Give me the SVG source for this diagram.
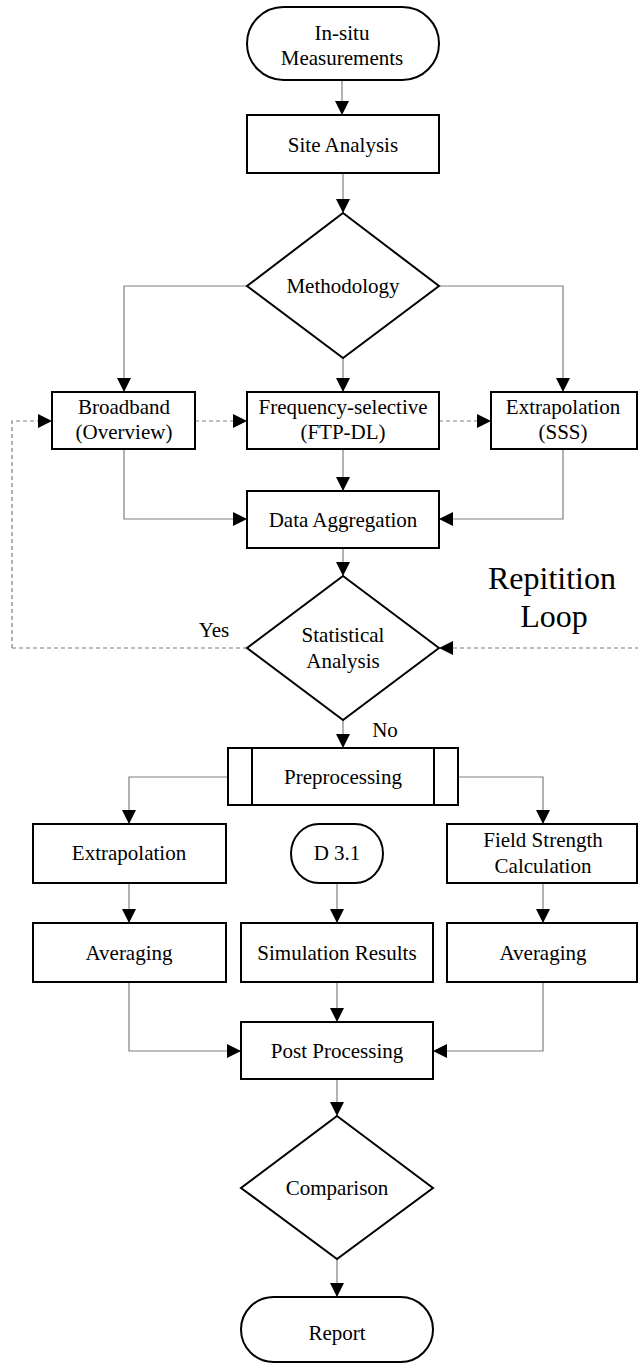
<svg xmlns="http://www.w3.org/2000/svg" width="638" height="1366" viewBox="0 0 638 1366">
<style>
.box{fill:#fff;stroke:#000;stroke-width:2}
.t{font-family:"Liberation Serif","Times New Roman",serif;font-size:21px;fill:#000;text-anchor:middle}
.big{font-size:32px}
.c{fill:none;stroke:#808080;stroke-width:1.2}
.d{fill:none;stroke:#808080;stroke-width:1.2;stroke-dasharray:4 3}
.dl{fill:none;stroke:#a8a8a8;stroke-width:1.4;stroke-dasharray:4 3}
</style>
<defs>
<marker id="ah" markerUnits="userSpaceOnUse" markerWidth="15" markerHeight="14" refX="14" refY="7" orient="auto" viewBox="0 0 15 14">
<path d="M0,0 L14,7 L0,14 z" fill="#000"/>
</marker>
</defs>
<rect width="638" height="1366" fill="#fff"/>
<g id="connectors">
<path class="c" d="M342,80 V115" marker-end="url(#ah)"/>
<path class="c" d="M343,173 V213" marker-end="url(#ah)"/>
<path class="c" d="M247,286 H124 V392" marker-end="url(#ah)"/>
<path class="c" d="M439,286 H563 V392" marker-end="url(#ah)"/>
<path class="c" d="M343,358 V392" marker-end="url(#ah)"/>
<path class="c" d="M343,449 V491" marker-end="url(#ah)"/>
<path class="c" d="M124,449 V519 H247" marker-end="url(#ah)"/>
<path class="c" d="M563,449 V519 H439" marker-end="url(#ah)"/>
<path class="c" d="M343,548 V576" marker-end="url(#ah)"/>
<path class="dl" d="M247,648 H12"/>
<path class="d" d="M12,648 V421 H52" marker-end="url(#ah)"/>
<path class="d" d="M195,421 H247" marker-end="url(#ah)"/>
<path class="d" d="M439,421 H491" marker-end="url(#ah)"/>
<path class="d" d="M637,421 H660"/>
<path class="dl" d="M660,648 H439" marker-end="url(#ah)"/>
<path class="c" d="M343,720 V748" marker-end="url(#ah)"/>
<path class="c" d="M228,777 H129 V824" marker-end="url(#ah)"/>
<path class="c" d="M458,777 H543 V824" marker-end="url(#ah)"/>
<path class="c" d="M129,883 V923" marker-end="url(#ah)"/>
<path class="c" d="M337,883 V923" marker-end="url(#ah)"/>
<path class="c" d="M543,883 V923" marker-end="url(#ah)"/>
<path class="c" d="M129,982 V1051 H241" marker-end="url(#ah)"/>
<path class="c" d="M337,982 V1022" marker-end="url(#ah)"/>
<path class="c" d="M543,982 V1051 H433" marker-end="url(#ah)"/>
<path class="c" d="M337,1079 V1116" marker-end="url(#ah)"/>
<path class="c" d="M337,1259 V1297" marker-end="url(#ah)"/>
<text class="t" x="214" y="637">Yes</text>
<text class="t" x="385" y="737">No</text>
</g>
<g id="loop-label">
<text class="t big" x="552" y="589">Repitition</text>
<text class="t big" x="554" y="627">Loop</text>
</g>
<g id="insitu">
<rect class="box" x="247" y="7" width="192" height="73" rx="36.5" ry="36.5"/>
<text class="t" x="342" y="40">In-situ</text>
<text class="t" x="342" y="65">Measurements</text>
</g>
<g id="site">
<rect class="box" x="247" y="115" width="192" height="58"/>
<text class="t" x="343" y="152">Site Analysis</text>
</g>
<g id="methodology">
<polygon class="box" points="343,213 439,286 343,358 247,286"/>
<text class="t" x="343" y="293">Methodology</text>
</g>
<g id="broadband">
<rect class="box" x="52" y="392" width="143" height="57"/>
<text class="t" x="124" y="414">Broadband</text>
<text class="t" x="124" y="439">(Overview)</text>
</g>
<g id="freqsel">
<rect class="box" x="247" y="392" width="192" height="57"/>
<text class="t" x="343" y="414">Frequency-selective</text>
<text class="t" x="343" y="439">(FTP-DL)</text>
</g>
<g id="extrap-sss">
<rect class="box" x="491" y="392" width="146" height="57"/>
<text class="t" x="563" y="414">Extrapolation</text>
<text class="t" x="563" y="439">(SSS)</text>
</g>
<g id="aggregation">
<rect class="box" x="247" y="491" width="192" height="57"/>
<text class="t" x="343" y="527">Data Aggregation</text>
</g>
<g id="statistical">
<polygon class="box" points="343,576 439,648 343,720 247,648"/>
<text class="t" x="343" y="642">Statistical</text>
<text class="t" x="343" y="668">Analysis</text>
</g>
<g id="preprocessing">
<rect class="box" x="228" y="748" width="230" height="57"/>
<line class="box" x1="252" y1="748" x2="252" y2="805"/>
<line class="box" x1="434" y1="748" x2="434" y2="805"/>
<text class="t" x="343" y="784">Preprocessing</text>
</g>
<g id="extrapolation">
<rect class="box" x="33" y="824" width="193" height="59"/>
<text class="t" x="129" y="860">Extrapolation</text>
</g>
<g id="d31">
<rect class="box" x="291" y="824" width="92" height="59" rx="28" ry="29.5"/>
<text class="t" x="337" y="860">D 3.1</text>
</g>
<g id="fieldstrength">
<rect class="box" x="447" y="824" width="190" height="59"/>
<text class="t" x="543" y="847">Field Strength</text>
<text class="t" x="543" y="873">Calculation</text>
</g>
<g id="averaging-left">
<rect class="box" x="33" y="923" width="193" height="59"/>
<text class="t" x="129" y="960">Averaging</text>
</g>
<g id="simulation">
<rect class="box" x="241" y="923" width="192" height="59"/>
<text class="t" x="337" y="960">Simulation Results</text>
</g>
<g id="averaging-right">
<rect class="box" x="447" y="923" width="190" height="59"/>
<text class="t" x="543" y="960">Averaging</text>
</g>
<g id="postprocessing">
<rect class="box" x="241" y="1022" width="192" height="57"/>
<text class="t" x="337" y="1058">Post Processing</text>
</g>
<g id="comparison">
<polygon class="box" points="337,1116 433,1188 337,1259 241,1188"/>
<text class="t" x="337" y="1195">Comparison</text>
</g>
<g id="report">
<rect class="box" x="241" y="1297" width="192" height="65" rx="32.5" ry="32.5"/>
<text class="t" x="337" y="1340">Report</text>
</g>
</svg>
